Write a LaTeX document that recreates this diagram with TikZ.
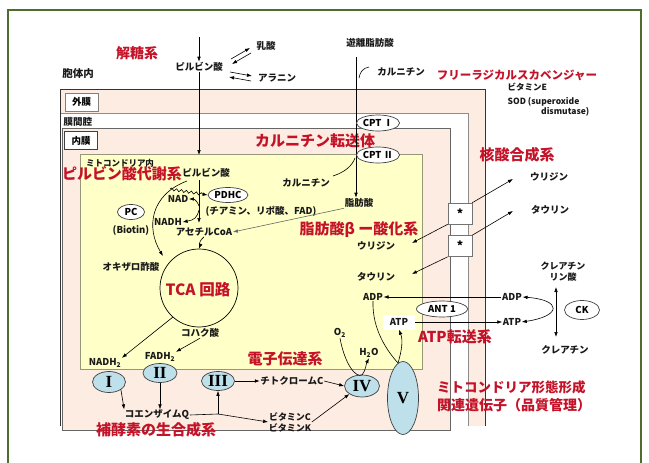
\documentclass[tikz,border=0pt]{standalone}
\usepackage{fontspec}
\setmainfont{Noto Sans CJK JP}
\newfontfamily\romf{Liberation Serif}
\usetikzlibrary{arrows.meta,decorations.pathmorphing,shapes.geometric}
\definecolor{peach}{RGB}{253,236,226}
\definecolor{matrixy}{RGB}{255,255,200}
\definecolor{hred}{RGB}{196,18,40}
\definecolor{frameg}{RGB}{78,108,44}
\definecolor{cplx}{RGB}{190,224,234}
\definecolor{mborder}{RGB}{150,150,120}
\tikzset{
 txt/.style={font=\bfseries\fontsize{9.5}{11}\selectfont, inner sep=0.5pt, text=black!90},
 stxt/.style={font=\bfseries\fontsize{8.5}{10}\selectfont, inner sep=0.5pt, text=black!90},
 head/.style={font=\bfseries\fontsize{15}{17}\selectfont, inner sep=0pt, text=hred},
 arr/.style={-{Latex[length=5pt,width=3.6pt]}, line width=0.6pt},
 darr/.style={{Latex[length=5pt,width=3.6pt]}-{Latex[length=5pt,width=3.6pt]}, line width=0.6pt},
 ln/.style={line width=0.6pt},
 cx/.style={ellipse, draw=black!75, fill=cplx, line width=0.7pt, inner sep=0pt, font=\romf\bfseries\fontsize{17}{17}\selectfont},
 enz/.style={ellipse, draw=black!75, fill=white, line width=0.7pt, inner sep=0pt, font=\bfseries\fontsize{9.5}{10}\selectfont},
 mlabel/.style={draw=black!50, fill=white, line width=0.7pt, inner sep=0pt, minimum width=33pt, minimum height=18pt, font=\bfseries\fontsize{9.5}{10}\selectfont},
 astbox/.style={draw=black!55, fill=white, line width=0.6pt, inner sep=0pt, minimum width=24pt, minimum height=21pt, font=\bfseries\fontsize{12}{12}\selectfont},
}
\begin{document}
\begin{tikzpicture}[x=1pt,y=-1pt]
\useasboundingbox (0,0) rectangle (649,463);
% frame
\draw[frameg, line width=2.5pt] (8,470) -- (8,10) -- (641,10) -- (641,470);
% membranes
\fill[peach] (60,89) rectangle (485,426);
\draw[black!80, line width=0.7pt] (60,426) -- (60,89) -- (485,89) -- (485,426);
\fill[white] (60.5,113) rectangle (468,426);
\draw[black!45, line width=0.6pt] (60.5,113) -- (468,113) -- (468,426);
\fill[peach] (62,128) rectangle (450,430);
\draw[black!60, line width=0.7pt] (62,128) rectangle (450,430);
\fill[matrixy] (80,154) rectangle (422,369);
\draw[mborder, line width=0.8pt] (80,154) rectangle (422,369);
% membrane labels
\node[mlabel] (om) at (81.5,102) {外膜};
\node[txt, anchor=west] (ims) at (63,122) {膜間腔};
\node[mlabel, draw=black!75] (im) at (81,140.5) {内膜};
\node[txt, font=\bfseries\fontsize{10.5}{12}\selectfont] (cyto) at (78,74) {胞体内};
% headings
\node[head, font=\bfseries\fontsize{14}{16}\selectfont] (h1) at (137,53) {解糖系};
\node[head] (h2) at (315,141) {カルニチン転送体};
\node[head, font=\bfseries\fontsize{11.5}{14}\selectfont] (h3) at (517,75) {フリーラジカルスカベンジャー};
\node[head] (h4) at (517,155) {核酸合成系};
\node[head] (h5) at (122,174) {ピルビン酸代謝系};
\node[head] (h6) at (359,230) {脂肪酸β ー酸化系};
\node[head] (h7) at (455,337) {ATP転送系};
\node[head] (h8) at (285,359) {電子伝達系};
\node[head, anchor=west, font=\bfseries\fontsize{13.5}{16}\selectfont] (h9) at (437,387) {ミトコンドリア形態形成};
\node[head, anchor=west, font=\bfseries\fontsize{14}{16}\selectfont] (h10) at (437,405) {関連遺伝子（品質管理）};
\node[head] (h11) at (156,430) {補酵素の生合成系};
% top texts
\node[txt] (pyr1) at (199,67) {ピルビン酸};
\node[txt] (lac) at (266,46) {乳酸};
\node[txt] (ala) at (277,78) {アラニン};
\node[txt] (ffa) at (370,43) {遊離脂肪酸};
\node[txt] (car1) at (401,72) {カルニチン};
\node[stxt, anchor=west] (vite) at (507,87) {ビタミンE};
\node[stxt, anchor=west] (sod) at (507,102) {SOD (superoxide};
\node[stxt, anchor=east] (dis) at (590,112) {dismutase)};
\coordinate (gtop) at (199,37);
\coordinate (mtop) at (199,155);
\draw[arr] (gtop) -- (pyr1.north);
\draw[arr] (pyr1.south) -- (mtop);
\coordinate (l1a) at (231,59); \coordinate (l1b) at (250,48);
\coordinate (l2a) at (251,53); \coordinate (l2b) at (232,64);
\draw[arr] (l1a) -- (l1b);
\draw[arr] (l2a) -- (l2b);
\coordinate (a1a) at (230,72); \coordinate (a1b) at (252,76);
\coordinate (a2a) at (251,81); \coordinate (a2b) at (229,77);
\draw[arr] (a1a) -- (a1b);
\draw[arr] (a2a) -- (a2b);
% carnitine transport
\node[txt] (car2) at (306,183) {カルニチン};
\node[txt] (fa) at (359,203) {脂肪酸};
\coordinate (ffal) at (356,57);
\draw[arr] (ffal) -- (ffal |- fa.north);
\draw[ln] (369,67) .. controls (363,68) and (360,72) .. (359,78);
\node[enz, minimum width=37pt, minimum height=16pt] (cpt1) at (378,123) {CPT Ⅰ};
\node[enz, minimum width=37pt, minimum height=16pt] (cpt2) at (378,155) {CPT Ⅱ};
\draw[ln] (333,176) .. controls (345,172) and (352,166) .. (355,158);
% pyruvate metabolism
\node[stxt] (mitoin) at (120,163) {ミトコンドリア内};
\node[txt] (pyr2) at (206,173) {ピルビン酸};
\node[enz, minimum width=40pt, minimum height=15pt] (pdhc) at (228,195) {PDHC};
\node[txt] (vit1) at (261,211) {(チアミン、リポ酸、FAD)};
\node[txt] (nad) at (178,199) {NAD};
\node[txt] (nadh) at (168,222) {NADH};
\node[txt] (acoa) at (204,232) {アセチルCoA};
\node[enz, minimum width=27pt, minimum height=15pt] (pc) at (131,212) {PC};
\node[txt] (biot) at (131,230) {(Biotin)};
\coordinate (pyrv) at (199,180);
\draw[arr] (pyrv) -- (199,223);
\draw[arr, decorate, decoration={snake, amplitude=1.3pt, segment length=5pt, post length=4pt}] (170,189) -- (pdhc.west);
\draw[arr] (199,206) .. controls (196,198) and (192,199) .. (nad.east);
\draw[arr] (199,210) .. controls (197,218) and (194,220) .. (nadh.east);
\draw[arr, black!60] (fa.south west) -- (acoa.east);
\node[txt] (oxa) at (131,267) {オキザロ酢酸};
\node[draw, circle, line width=0.7pt, minimum size=78pt, inner sep=0pt] (tca) at (199,288) {};
\node[head, font=\bfseries\fontsize{15.5}{17}\selectfont] (tcat) at (198,290) {TCA 回路};
\draw[arr] (187,181) .. controls (150,195) and (146,228) .. (163,256);
\draw[arr] (acoa.south) .. controls (197,243) and (200,246) .. (tca.north);
\node[txt] (suc) at (200,333) {コハク酸};
% nucleic
\node[txt] (uri1) at (376,246) {ウリジン};
\node[txt] (tau1) at (376,277) {タウリン};
\node[txt] (uri2) at (549,177) {ウリジン};
\node[txt] (tau2) at (550,210) {タウリン};
\node[astbox] (s1) at (460,213.5) {*};
\node[astbox] (s2) at (460,246) {*};
\coordinate (u2t) at (513,179); \coordinate (u1t) at (412,243);
\coordinate (t2t) at (513,211); \coordinate (t1t) at (412,274);
\draw[arr] (s1.north east) -- (u2t);
\draw[arr] (s1.south west) -- (u1t);
\draw[arr] (s2.north east) -- (t2t);
\draw[arr] (s2.south west) -- (t1t);
% ATP system
\node[txt] (adpi) at (373,297) {ADP};
\node[txt] (adpo) at (512,297) {ADP};
\node[enz, minimum width=51pt, minimum height=16pt] (ant) at (442,309) {ANT 1};
\node[txt, fill=white, minimum width=32pt, minimum height=15pt] (atpi) at (399,322) {ATP};
\node[txt] (atpo) at (512,322) {ATP};
\node[txt, align=center, font=\bfseries\fontsize{9}{11}\selectfont] (crp) at (563,272) {クレアチン\\リン酸};
\node[txt] (cre) at (565,350) {クレアチン};
\node[enz, minimum width=35pt, minimum height=19pt] (ck) at (582,310) {CK};
\draw[arr] (adpo.west) -- (adpi.east);
\draw[arr] (atpi.east) -- (atpo.west);
\coordinate (ckt) at (556,287); \coordinate (ckb) at (556,337);
\draw[darr] (ckt) -- (ckb);
\draw[darr] (adpo.east) .. controls (562,300) and (562,316) .. (atpo.east);
% electron transport
\node[txt] (nadh2) at (105,363) {NADH\textsubscript{2}};
\node[txt] (fadh2) at (160,357) {FADH\textsubscript{2}};
\node[cx, minimum width=33pt, minimum height=21pt] (c1) at (109,382) {I};
\node[cx, minimum width=34pt, minimum height=19pt] (c2) at (160,373) {II};
\node[cx, minimum width=33pt, minimum height=19pt] (c3) at (218,381) {III};
\node[cx, minimum width=35pt, minimum height=22pt] (c4) at (362,386) {IV};
\node[cx, minimum width=31pt, minimum height=73pt] (c5) at (403,398) {V};
\node[txt] (cytc) at (292,381) {チトクロームC};
\node[txt] (coq) at (157,415) {コエンザイムQ};
\node[txt, align=center, font=\bfseries\fontsize{9}{11}\selectfont] (vck) at (290,422) {ビタミンC\\ビタミンK};
\node[txt] (o2) at (340,333) {O\textsubscript{2}};
\node[txt] (h2o) at (369,353) {H\textsubscript{2}O};
\draw[arr] (tca.228) -- (nadh2.north east);
\draw[arr] (suc.south) -- (fadh2.north east);
\draw[arr] (c1.south east) -- (coq.north west);
\draw[arr] (c2.south) -- (coq.north -| c2.south);
\coordinate (jq) at (218,414);
\draw[ln] (coq.east) -- (jq);
\draw[arr] (jq) -- (c3.south);
\draw[arr] (jq) -- (vck.west);
\draw[arr] (c3.east) -- (cytc.west);
\draw[arr] (cytc.east) -- (c4.west);
\draw[arr] (vck.east) -- (c4.south west);
\draw[arr] (o2.south) .. controls (345,365) and (356,378) .. (362,375) .. controls (366,370) and (366,364) .. (h2o.south);
\draw[ln] (adpi.south) .. controls (372,330) and (388,352) .. (398,363);
\draw[arr] (398,363) .. controls (402,350) and (403,340) .. (atpi.south);
\end{tikzpicture}
\end{document}
